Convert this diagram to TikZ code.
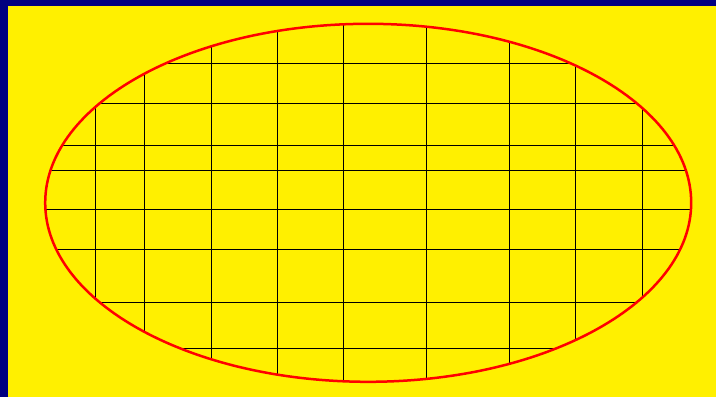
\documentclass[tikz,border=0pt]{standalone}
\usepackage{tikz}
\definecolor{bordernavy}{RGB}{0,0,128}
\definecolor{sheetyellow}{RGB}{255,240,0}
\begin{document}
\begin{tikzpicture}[x=1pt,y=-1pt]
% Frame and background
\fill[bordernavy] (0,0) rectangle (716,397);
\fill[sheetyellow] (8,6) rectangle (716,397);
\useasboundingbox (0,0) rectangle (716,397);

% Grid lines, clipped to the ellipse
\begin{scope}
\clip (368.2,202.8) ellipse (323 and 179);
\foreach \x in {95,144.3,211,277.3,343.7,426.7,509.3,575.7,642.3}
  \draw[black, line width=0.8pt] (\x,0) -- (\x,397);
\foreach \y in {63.3,103.3,145.7,170,209.7,249.3,302.7,348.3}
  \draw[black, line width=0.8pt] (0,\y) -- (716,\y);
\end{scope}

% Draw the ellipse outline
\draw[red, line width=2.5pt] (368.2,202.8) ellipse (323 and 179);
\end{tikzpicture}
\end{document}
